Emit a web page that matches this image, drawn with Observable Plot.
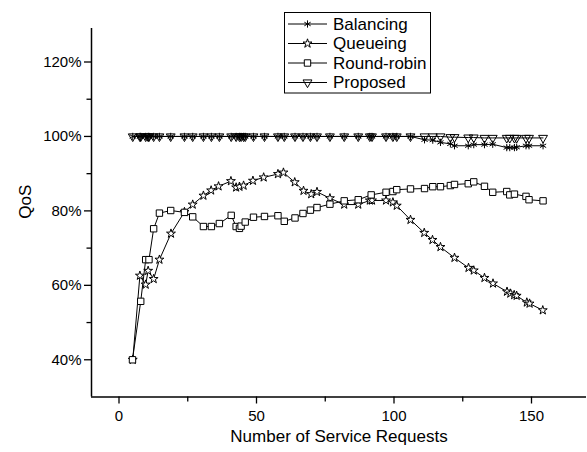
<!DOCTYPE html>
<html>
<head>
<meta charset="utf-8">
<script src="https://cdn.jsdelivr.net/npm/d3@7"></script>
<script src="https://cdn.jsdelivr.net/npm/@observablehq/plot@0.6"></script>
<style>
  html, body { margin: 0; padding: 0; background: #fff; }
  #wrap { position: relative; width: 587px; height: 452px; }
  #wrap svg { position: absolute; left: 0; top: 0; }
</style>
</head>
<body>
<div id="wrap"></div>
<script>
// ---- data ----
const seriesNames = ["Balancing", "Queueing", "Round-robin", "Proposed"];

const rrX = [4.9, 7.9, 9.7, 10.9, 12.6, 14.7, 18.8, 23.8, 26.8, 30.7, 33.6, 36.5, 40.8, 42.6, 43.8, 44.4, 45.9, 48.9, 52.9, 57.8, 60.1, 64.0, 66.9, 69.6, 72.0, 76.7, 81.9, 87.0, 91.7, 97.1, 99.6, 101.0, 106.0, 111.1, 114.1, 116.9, 120.5, 122.0, 127.0, 129.0, 132.9, 135.9, 141.0, 142.1, 143.8, 148.0, 149.1, 154.2];
const rrY = [40.0, 55.7, 66.9, 66.9, 75.2, 79.4, 80.1, 79.6, 78.4, 75.8, 75.8, 76.6, 78.8, 75.8, 75.3, 75.9, 77.0, 78.3, 78.5, 78.7, 77.2, 78.1, 79.3, 80.2, 80.9, 81.8, 82.7, 83.0, 84.3, 85.0, 85.2, 85.7, 85.9, 86.0, 86.5, 86.5, 86.8, 87.1, 87.3, 87.8, 86.6, 85.0, 85.2, 84.3, 84.5, 83.9, 83.0, 82.7];

const qX = [5.0, 7.6, 9.7, 10.6, 12.6, 14.7, 18.9, 23.8, 26.8, 30.7, 33.5, 36.2, 40.7, 42.6, 43.8, 45.3, 48.7, 52.6, 57.8, 59.8, 63.9, 67.1, 69.9, 72.0, 76.7, 81.9, 87.0, 91.2, 92.0, 97.1, 99.6, 101.0, 106.0, 111.0, 114.0, 116.9, 122.0, 127.1, 129.0, 132.9, 136.0, 141.1, 142.3, 143.7, 144.6, 148.3, 149.3, 154.1];
const qY = [40.0, 62.6, 60.2, 63.9, 61.7, 66.9, 73.9, 79.7, 81.7, 84.1, 85.5, 86.6, 88.0, 86.3, 86.5, 86.8, 88.1, 89.0, 89.9, 90.3, 87.7, 85.4, 84.5, 85.1, 83.4, 81.7, 81.7, 82.8, 82.8, 82.8, 82.3, 81.4, 77.6, 74.1, 72.2, 70.3, 67.4, 64.7, 64.0, 62.0, 60.5, 58.3, 57.8, 57.4, 57.2, 55.4, 55.1, 53.3];

// Proposed and Balancing share these x positions
const pX = [5.0, 7.6, 7.9, 9.7, 10.6, 10.9, 12.6, 14.7, 18.8, 23.8, 26.8, 30.7, 33.6, 36.5, 40.8, 42.6, 43.8, 44.4, 45.3, 45.9, 48.9, 52.9, 57.8, 60.1, 64.0, 66.9, 69.6, 72.0, 76.7, 81.9, 87.0, 91.2, 92.0, 97.1, 99.6, 101.0, 106.0, 111.1, 114.1, 116.9, 120.5, 122.0, 127.0, 129.0, 132.9, 135.9, 141.0, 142.1, 143.8, 144.6, 148.0, 149.1, 154.2];
const propY = [100, 100, 100, 100, 100, 100, 100, 100, 100, 100, 100, 100, 100, 100, 100, 100, 100, 100, 100, 100, 100, 100, 100, 100, 100, 100, 100, 100, 100, 100, 100, 100, 100, 100, 100, 100, 100, 100, 100, 100, 99.8, 99.8, 99.7, 99.7, 99.6, 99.6, 99.6, 99.6, 99.6, 99.6, 99.6, 99.6, 99.6];
const balY = [100, 100, 100, 100, 100, 100, 100, 100, 100, 100, 100, 100, 100, 100, 100, 100, 100, 100, 100, 100, 100, 100, 100, 100, 100, 100, 100, 100, 100, 100, 100, 100, 100, 100, 100, 100, 100, 99.1, 99.0, 98.4, 98.0, 97.5, 97.5, 97.8, 97.8, 97.9, 97.0, 97.0, 97.0, 97.1, 97.5, 97.5, 97.5];

const xTicks = [0, 50, 100, 150];
const xMinor = [25, 75, 125];
const yTicks = [40, 60, 80, 100, 120];
const yMinor = [50, 70, 90, 110];

// ---- build tables ----
const toRows = (xs, ys) => xs.map((x, i) => ({x, y: ys[i]}));
const bal = toRows(pX, balY);
const que = toRows(qX, qY);
const rr = toRows(rrX, rrY);
const prop = toRows(pX, propY);

const style = {
  Balancing: {symbol: "asterisk", r: 3.4, fill: "none"},
  Queueing: {symbol: "star", r: 2.8, fill: "white"},
  "Round-robin": {symbol: "square", r: 3.6, fill: "white"},
  Proposed: {symbol: "triangle", r: 3.3, fill: "none", rotate: 180}
};

const W = 587, H = 452;
const chart = Plot.plot({
  width: W,
  height: H,
  marginLeft: 91,
  marginRight: 1,
  marginTop: 28,
  marginBottom: 55.5,
  style: {fontFamily: "'Liberation Sans', Arial, sans-serif", color: "black", background: "white"},
  x: {domain: [-10, 170]},
  y: {domain: [30, 129]},
  marks: [
    Plot.ruleY([30], {stroke: "black", strokeWidth: 1.5}),
    Plot.ruleX([-10], {stroke: "black", strokeWidth: 1.5}),
    Plot.axisX(xTicks, {tickSize: 7, tickPadding: 6, fontSize: 15, label: null, strokeWidth: 1.3}),
    Plot.axisX(xMinor, {tickSize: 5, tickFormat: () => "", label: null, strokeWidth: 1.3}),
    Plot.axisY(yTicks, {tickSize: 7, tickPadding: 3, fontSize: 15, label: null, tickFormat: d => d + "%", strokeWidth: 1.3}),
    Plot.axisY(yMinor, {tickSize: 4.5, tickFormat: () => "", label: null, strokeWidth: 1.3}),
    Plot.text(["Number of Service Requests"], {frameAnchor: "bottom", dy: 45, fontSize: 17}),
    Plot.text(["QoS"], {frameAnchor: "left", dx: -66, dy: 6, rotate: -90, fontSize: 17}),
    // lines
    Plot.line(bal, {x: "x", y: "y", stroke: "black", strokeWidth: 1}),
    Plot.line(que, {x: "x", y: "y", stroke: "black", strokeWidth: 1}),
    Plot.line(rr, {x: "x", y: "y", stroke: "black", strokeWidth: 1}),
    Plot.line(prop, {x: "x", y: "y", stroke: "black", strokeWidth: 1}),
    // markers
    Plot.dot(bal, {x: "x", y: "y", symbol: "asterisk", r: style.Balancing.r, stroke: "black", strokeWidth: 1}),
    Plot.dot(prop, {x: "x", y: "y", symbol: "triangle", r: style.Proposed.r, rotate: 180, stroke: "black", fill: "none", strokeWidth: 1}),
    Plot.dot(que, {x: "x", y: "y", symbol: "star", r: style.Queueing.r, stroke: "black", fill: "white", strokeWidth: 1}),
    Plot.dot(rr, {x: "x", y: "y", symbol: "square", r: style["Round-robin"].r, stroke: "black", fill: "white", strokeWidth: 1})
  ]
});
document.getElementById("wrap").appendChild(chart);

// ---- legend overlay (inside plot area, top centre) ----
const lg = d3.select("#wrap").append("svg")
  .attr("width", W).attr("height", H)
  .style("pointer-events", "none")
  .style("font-family", "'Liberation Sans', Arial, sans-serif");
const boxX = 284.5, boxY = 12.5, rowH = 19.5, firstRow = 24;
lg.append("rect").attr("x", boxX).attr("y", boxY).attr("width", 146).attr("height", 80.5)
  .attr("fill", "white").attr("stroke", "black").attr("stroke-width", 1);
const symMap = {asterisk: d3.symbolAsterisk, star: d3.symbolStar, square: d3.symbolSquare, triangle: d3.symbolTriangle};
seriesNames.forEach((name, i) => {
  const s = style[name];
  const cy = firstRow + i * rowH;
  const g = lg.append("g");
  g.append("line").attr("x1", 288).attr("x2", 327).attr("y1", cy).attr("y2", cy)
    .attr("stroke", "black").attr("stroke-width", 1);
  g.append("path")
    .attr("d", d3.symbol(symMap[s.symbol], Math.PI * s.r * s.r)())
    .attr("transform", `translate(307.5,${cy})` + (s.rotate ? ` rotate(${s.rotate})` : ""))
    .attr("fill", s.fill).attr("stroke", "black").attr("stroke-width", 1);
  g.append("text").attr("x", 333).attr("y", cy).attr("dy", "0.35em")
    .attr("font-size", 17).text(name);
});
</script>
</body>
</html>
